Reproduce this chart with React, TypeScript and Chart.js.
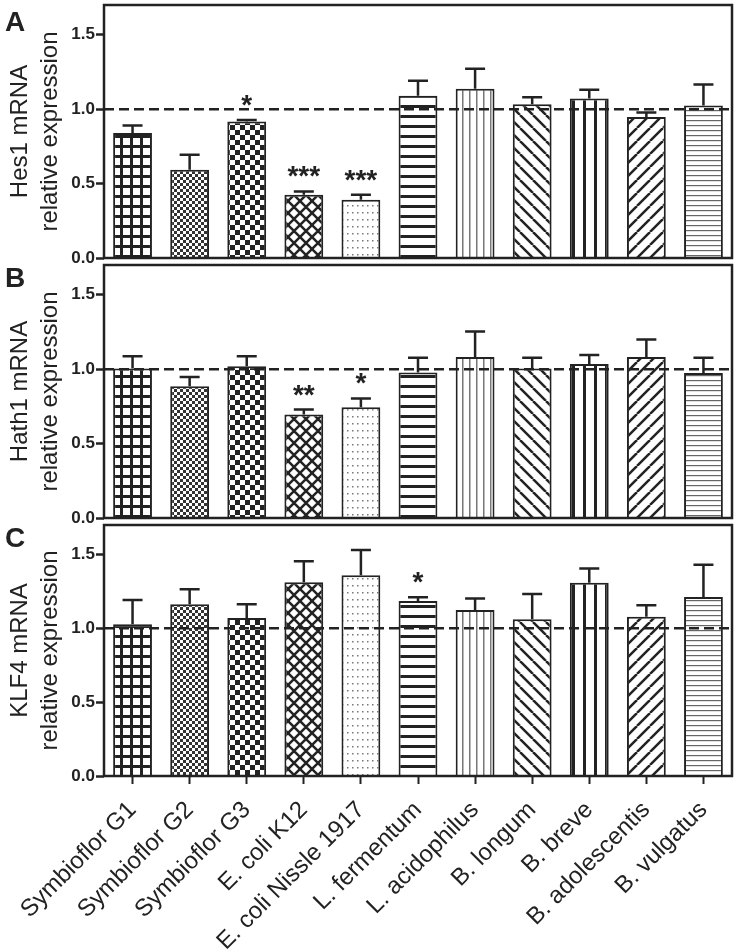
import React, { useEffect, useRef } from 'react';
import { Chart, registerables } from 'chart.js';

Chart.register(...registerables);

const categories = [
  'Symbioflor G1',
  'Symbioflor G2',
  'Symbioflor G3',
  'E. coli K12',
  'E. coli Nissle 1917',
  'L. fermentum',
  'L. acidophilus',
  'B. longum',
  'B. breve',
  'B. adolescentis',
  'B. vulgatus',
];

const hes1Values = [0.84, 0.593, 0.917, 0.425, 0.391, 1.091, 1.138, 1.033, 1.071, 0.948, 1.024];
const hes1Errors = [0.051, 0.1, 0.011, 0.022, 0.034, 0.1, 0.134, 0.047, 0.059, 0.029, 0.141];
const hes1Sig = ['', '', '*', '***', '***', '', '', '', '', '', ''];

const hath1Values = [1.005, 0.886, 1.02, 0.696, 0.745, 0.978, 1.081, 1.005, 1.034, 1.081, 0.975];
const hath1Errors = [0.082, 0.062, 0.067, 0.033, 0.058, 0.098, 0.172, 0.071, 0.062, 0.119, 0.101];
const hath1Sig = ['', '', '', '**', '*', '', '', '', '', '', ''];

const klf4Values = [1.027, 1.163, 1.07, 1.312, 1.359, 1.185, 1.124, 1.061, 1.309, 1.079, 1.212];
const klf4Errors = [0.165, 0.101, 0.093, 0.142, 0.171, 0.025, 0.079, 0.172, 0.097, 0.077, 0.219];
const klf4Sig = ['', '', '', '', '', '*', '', '', '', '', ''];

const yTickValues = [0, 0.5, 1.0, 1.5];
const yMin = 0;
const yMax = 1.7;
const referenceLevel = 1.0;

const panelLetters = ['A', 'B', 'C'];
const panelTitles = [
  ['Hes1 mRNA', 'relative expression'],
  ['Hath1 mRNA', 'relative expression'],
  ['KLF4 mRNA', 'relative expression'],
];

const patternKinds = [
  'grid',
  'fineChecker',
  'checker',
  'crosshatch',
  'dots',
  'hStripeThick',
  'vLineThin',
  'diagBack',
  'vLineThick',
  'diagFwd',
  'hLineThin',
];

const FONT = "'Liberation Sans', Arial, Helvetica, sans-serif";
const INK = '#222';

function makePattern(kind: string): CanvasPattern | string {
  const c = document.createElement('canvas');
  let w = 10;
  let h = 10;
  switch (kind) {
    case 'grid': w = 10; h = 10; break;
    case 'fineChecker': w = 6; h = 6; break;
    case 'checker': w = 10; h = 10; break;
    case 'crosshatch': w = 12; h = 12; break;
    case 'dots': w = 5; h = 7; break;
    case 'hStripeThick': w = 4; h = 10; break;
    case 'vLineThin': w = 7; h = 4; break;
    case 'diagBack': w = 13; h = 13; break;
    case 'vLineThick': w = 11; h = 4; break;
    case 'diagFwd': w = 13; h = 13; break;
    case 'hLineThin': w = 4; h = 5; break;
  }
  c.width = w;
  c.height = h;
  const g = c.getContext('2d')!;
  g.fillStyle = '#fff';
  g.fillRect(0, 0, w, h);
  g.fillStyle = INK;
  g.strokeStyle = INK;
  switch (kind) {
    case 'grid':
      g.fillRect(0, 0, 3, h);
      g.fillRect(0, 0, w, 3);
      break;
    case 'fineChecker':
      g.fillStyle = '#333';
      g.fillRect(0, 0, 3, 3);
      g.fillRect(3, 3, 3, 3);
      break;
    case 'checker':
      g.fillRect(0, 0, 5, 5);
      g.fillRect(5, 5, 5, 5);
      break;
    case 'crosshatch':
      g.lineWidth = 2.5;
      for (const o of [-w, 0, w]) {
        g.beginPath();
        g.moveTo(o, 0);
        g.lineTo(o + w, h);
        g.moveTo(o, h);
        g.lineTo(o + w, 0);
        g.stroke();
      }
      break;
    case 'dots':
      g.fillStyle = '#777';
      g.fillRect(2, 3, 1.5, 1.5);
      break;
    case 'hStripeThick':
      g.fillRect(0, 0, w, 3);
      break;
    case 'vLineThin':
      g.fillStyle = '#777';
      g.fillRect(0, 0, 1.5, h);
      break;
    case 'diagBack':
      g.lineWidth = 2.5;
      for (const o of [-w, 0, w]) {
        g.beginPath();
        g.moveTo(o, 0);
        g.lineTo(o + w, h);
        g.stroke();
      }
      break;
    case 'vLineThick':
      g.fillRect(0, 0, 3, h);
      break;
    case 'diagFwd':
      g.lineWidth = 2.5;
      for (const o of [-w, 0, w]) {
        g.beginPath();
        g.moveTo(o, h);
        g.lineTo(o + w, 0);
        g.stroke();
      }
      break;
    case 'hLineThin':
      g.fillStyle = '#666';
      g.fillRect(0, 0, w, 1.2);
      break;
  }
  const p = g.createPattern(c, 'repeat');
  return p || '#fff';
}

const decorPlugin = {
  id: 'decor',
  afterDatasetsDraw(chart: any, _args: any, opts: any) {
    const { ctx, chartArea } = chart;
    const yScale = chart.scales.y;
    ctx.save();
    const yRef = yScale.getPixelForValue(referenceLevel);
    ctx.strokeStyle = INK;
    ctx.lineWidth = 2.5;
    ctx.setLineDash([10, 5]);
    ctx.beginPath();
    ctx.moveTo(chartArea.left, yRef);
    ctx.lineTo(chartArea.right, yRef);
    ctx.stroke();
    ctx.setLineDash([]);
    const meta = chart.getDatasetMeta(0);
    const values: number[] = chart.data.datasets[0].data;
    meta.data.forEach((bar: any, i: number) => {
      const top = yScale.getPixelForValue(values[i] + opts.errors[i]);
      ctx.strokeStyle = INK;
      ctx.lineWidth = 2.5;
      ctx.beginPath();
      ctx.moveTo(bar.x, bar.y);
      ctx.lineTo(bar.x, top);
      ctx.moveTo(bar.x - 10, top);
      ctx.lineTo(bar.x + 10, top);
      ctx.stroke();
      const s = opts.sig[i];
      if (s) {
        ctx.fillStyle = INK;
        ctx.font = `bold 28px ${FONT}`;
        ctx.textAlign = 'center';
        ctx.textBaseline = 'alphabetic';
        ctx.fillText(s, bar.x, top - 6);
      }
    });
    ctx.restore();
  },
  afterDraw(chart: any, _args: any, opts: any) {
    const { ctx, chartArea } = chart;
    ctx.save();
    ctx.strokeStyle = INK;
    ctx.lineWidth = 2.5;
    ctx.strokeRect(chartArea.left, chartArea.top, chartArea.right - chartArea.left, chartArea.bottom - chartArea.top);
    ctx.fillStyle = INK;
    ctx.font = `bold 28px ${FONT}`;
    ctx.textAlign = 'left';
    ctx.textBaseline = 'alphabetic';
    ctx.fillText(opts.letter, 5, chartArea.top + opts.letterOffset);
    const cy = (chartArea.top + chartArea.bottom) / 2;
    ctx.font = `24px ${FONT}`;
    ctx.textAlign = 'center';
    ctx.textBaseline = 'middle';
    const xs = [20, 50];
    opts.title.forEach((line: string, k: number) => {
      ctx.save();
      ctx.translate(xs[k], cy);
      ctx.rotate(-Math.PI / 2);
      ctx.fillText(line, 0, 0);
      ctx.restore();
    });
    ctx.restore();
  },
};

function buildConfig(
  values: number[],
  errors: number[],
  sig: string[],
  letter: string,
  title: string[],
  showX: boolean,
  padTop: number,
  padBottom: number,
  letterOffset: number
): any {
  const xScale: any = {
    display: showX,
    offset: true,
    grid: {
      display: true,
      offset: false,
      drawOnChartArea: false,
      drawTicks: true,
      tickLength: 8,
      tickWidth: 2,
      tickColor: INK,
    },
    border: { display: false },
    ticks: {
      font: { family: FONT, size: 24 },
      color: INK,
      minRotation: 45,
      maxRotation: 45,
      padding: 12,
      autoSkip: false,
    },
  };
  if (showX) {
    xScale.afterFit = (s: any) => {
      s.height = 174;
    };
  }
  return {
    type: 'bar',
    data: {
      labels: categories,
      datasets: [
        {
          data: values,
          backgroundColor: patternKinds.map(makePattern),
          borderColor: INK,
          borderWidth: 2,
          borderSkipped: 'start',
          barPercentage: 0.68,
          categoryPercentage: 1,
        },
      ],
    },
    options: {
      responsive: false,
      animation: false,
      events: [],
      layout: { padding: { top: padTop, bottom: padBottom, left: 0, right: 6 } },
      plugins: {
        legend: { display: false },
        tooltip: { enabled: false },
        decor: { errors, sig, letter, title, letterOffset },
      },
      scales: {
        x: xScale,
        y: {
          min: yMin,
          max: yMax,
          afterBuildTicks: (s: any) => {
            s.ticks = yTickValues.map((v) => ({ value: v }));
          },
          grid: {
            display: true,
            drawOnChartArea: false,
            drawTicks: true,
            tickLength: 8,
            tickWidth: 2.5,
            tickColor: INK,
          },
          border: { display: false },
          ticks: {
            font: { family: FONT, size: 17, weight: 'bold' },
            color: INK,
            padding: 1,
            callback: (v: any) => Number(v).toFixed(1),
          },
          afterFit: (s: any) => {
            s.width = 104;
          },
        },
      },
    },
    plugins: [decorPlugin],
  };
}

export default function App() {
  const refA = useRef<HTMLCanvasElement>(null);
  const refB = useRef<HTMLCanvasElement>(null);
  const refC = useRef<HTMLCanvasElement>(null);

  useEffect(() => {
    const charts = [
      new Chart(refA.current!, buildConfig(hes1Values, hes1Errors, hes1Sig, panelLetters[0], panelTitles[0], false, 20, 17, 26)),
      new Chart(refB.current!, buildConfig(hath1Values, hath1Errors, hath1Sig, panelLetters[1], panelTitles[1], false, 20, 17, 22)),
      new Chart(refC.current!, buildConfig(klf4Values, klf4Errors, klf4Sig, panelLetters[2], panelTitles[2], true, 20, 0, 22)),
    ];
    return () => charts.forEach((c) => c.destroy());
  }, []);

  return (
    <div style={{ position: 'absolute', left: 0, top: 0, width: 738, height: 950, overflow: 'hidden', background: '#fff' }}>
      <canvas ref={refA} width={738} height={290} style={{ position: 'absolute', left: 0, top: -15 }} />
      <canvas ref={refB} width={738} height={290} style={{ position: 'absolute', left: 0, top: 245 }} />
      <canvas ref={refC} width={738} height={445} style={{ position: 'absolute', left: 0, top: 505 }} />
    </div>
  );
}
